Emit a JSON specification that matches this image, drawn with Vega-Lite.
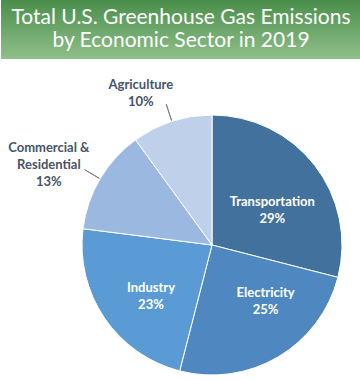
{
  "$schema": "https://vega.github.io/schema/vega-lite/v6.json",
  "padding": 0,
  "spacing": 13,
  "background": "white",
  "config": {"view": {"stroke": null}},
  "vconcat": [
    {
      "width": 360,
      "height": 59,
      "data": {"values": [{"title": "Total U.S. Greenhouse Gas Emissions\nby Economic Sector in 2019"}]},
      "layer": [
        {
          "mark": {
            "type": "rect",
            "fill": {
              "gradient": "linear",
              "x1": 0, "y1": 0, "x2": 0, "y2": 1,
              "stops": [
                {"offset": 0, "color": "#4a8e4b"},
                {"offset": 1, "color": "#8fc08a"}
              ]
            }
          },
          "encoding": {}
        },
        {
          "mark": {
            "type": "text",
            "font": "Lato",
            "fontSize": 21,
            "color": "white",
            "lineBreak": "\n",
            "lineHeight": 23,
            "baseline": "middle",
            "align": "center",
            "dy": -12
          },
          "encoding": {"text": {"field": "title", "type": "nominal"}}
        }
      ]
    },
    {
      "width": 422,
      "height": 260,
      "data": {
        "values": [
          {"idx": 1, "sector": "Transportation", "value": 29, "label": "Transportation\n29%"},
          {"idx": 2, "sector": "Electricity", "value": 25, "label": "Electricity\n25%"},
          {"idx": 3, "sector": "Industry", "value": 23, "label": "Industry\n23%"},
          {"idx": 4, "sector": "Commercial & Residential", "value": 13, "label": "Commercial &\nResidential\n13%"},
          {"idx": 5, "sector": "Agriculture", "value": 10, "label": "Agriculture\n10%"}
        ]
      },
      "encoding": {
        "theta": {"field": "value", "type": "quantitative", "stack": true},
        "order": {"field": "idx", "type": "quantitative"},
        "detail": {"field": "sector", "type": "nominal"}
      },
      "layer": [
        {
          "mark": {"type": "arc", "fill": "white", "opacity": 0},
          "encoding": {
            "radius": {"value": {"expr": "datum.sector === 'Commercial & Residential' ? 212.7 : 0"}}
          }
        },
        {
          "mark": {"type": "arc", "stroke": "white", "strokeWidth": 1},
          "encoding": {
            "color": {
              "field": "sector",
              "type": "nominal",
              "scale": {
                "domain": ["Transportation", "Electricity", "Industry", "Commercial & Residential", "Agriculture"],
                "range": ["#42719e", "#4f87c0", "#5b9bd5", "#9bb9e0", "#bed0ea"]
              },
              "legend": null
            }
          }
        },
        {
          "mark": {"type": "arc", "filled": false, "radius": 148, "radius2": 131, "padAngle": 1.0, "stroke": "#808080", "strokeWidth": 1},
          "encoding": {
            "strokeOpacity": {"condition": {"test": "datum.value < 15", "value": 1}, "value": 0}
          }
        },
        {
          "mark": {"type": "text", "font": "Lato", "fontSize": 13, "fontWeight": "bold", "color": "white", "lineBreak": "\n", "lineHeight": 17, "baseline": "middle", "align": "center", "radius": 70, "dx": 5, "dy": -0.5},
          "encoding": {"text": {"condition": {"test": "datum.sector === 'Transportation'", "field": "label"}, "value": ""}}
        },
        {
          "mark": {"type": "text", "font": "Lato", "fontSize": 13, "fontWeight": "bold", "color": "white", "lineBreak": "\n", "lineHeight": 17, "baseline": "middle", "align": "center", "radius": 70, "dx": 18, "dy": -12.5},
          "encoding": {"text": {"condition": {"test": "datum.sector === 'Electricity'", "field": "label"}, "value": ""}}
        },
        {
          "mark": {"type": "text", "font": "Lato", "fontSize": 13, "fontWeight": "bold", "color": "white", "lineBreak": "\n", "lineHeight": 17, "baseline": "middle", "align": "center", "radius": 75, "dx": 1, "dy": 0.5},
          "encoding": {"text": {"condition": {"test": "datum.sector === 'Industry'", "field": "label"}, "value": ""}}
        },
        {
          "mark": {"type": "text", "font": "Lato", "fontSize": 13, "fontWeight": "bold", "color": "#44546a", "lineBreak": "\n", "lineHeight": 17, "baseline": "middle", "align": "center", "radius": 157, "dx": -28, "dy": -17},
          "encoding": {"text": {"condition": {"test": "datum.sector === 'Commercial & Residential'", "field": "label"}, "value": ""}}
        },
        {
          "mark": {"type": "text", "font": "Lato", "fontSize": 13, "fontWeight": "bold", "color": "#44546a", "lineBreak": "\n", "lineHeight": 17, "baseline": "middle", "align": "center", "radius": 159, "dx": -22, "dy": -8.5},
          "encoding": {"text": {"condition": {"test": "datum.sector === 'Agriculture'", "field": "label"}, "value": ""}}
        }
      ]
    }
  ]
}
